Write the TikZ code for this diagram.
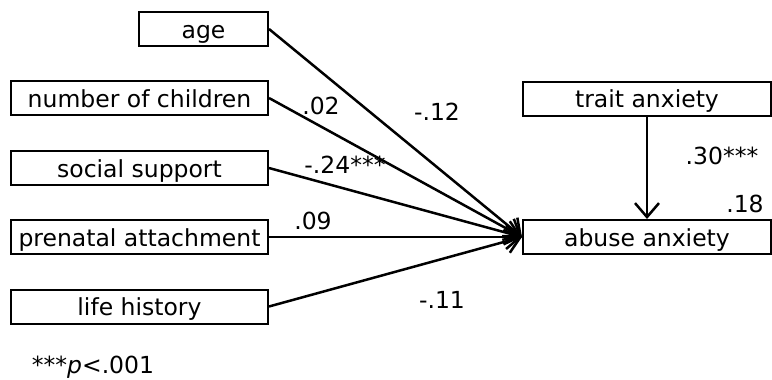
\documentclass[tikz,border=0pt]{standalone}
\usepackage{fontspec}
\setmainfont{DejaVu Sans}
\usetikzlibrary{arrows.meta}
\begin{document}
\begin{tikzpicture}[x=1pt, y=-1pt, line width=2.5pt,
    font=\fontsize{23.5}{27}\selectfont,
    var/.style = {draw, line width=2pt, minimum height=34pt, inner sep=0pt,
        text height=20pt, text depth=2pt},
    coef/.style = {inner sep=0pt},
    path/.style = {-{Straight Barb[length=14pt, width=24pt]}}]
    \useasboundingbox (0,0) rectangle (772,380);
    % predictors
    \node[var, minimum width=129pt] (age) at (203.5,29) {age};
    \node[var, minimum width=257pt] (child) at (139.5,98) {number of children};
    \node[var, minimum width=257pt] (support) at (139.5,168) {social support};
    \node[var, minimum width=257pt] (attach) at (139.5,237) {prenatal attachment};
    \node[var, minimum width=257pt] (history) at (139.5,306.5) {life history};
    % outcome side
    \node[var, minimum width=248pt] (trait) at (647,98.5) {trait anxiety};
    \node[var, minimum width=248pt] (abuse) at (647,237) {abuse anxiety};
    % paths
    \draw[path] (age.east) -- (abuse.west);
    \draw[path] (child.east) -- (abuse.west);
    \draw[path] (support.east) -- (abuse.west);
    \draw[path] (attach.east) -- (abuse.west);
    \draw[path] (history.east) -- (abuse.west);
    \draw[path] (trait.south) -- (abuse.north);
    % coefficients
    \node[coef] (c1) at (321,106) {.02};
    \node[coef] (c2) at (437,112) {-.12};
    \node[coef] (c3) at (345,165) {-.24***};
    \node[coef] (c4) at (313,221) {.09};
    \node[coef] (c5) at (442,300) {-.11};
    \node[coef] (c6) at (722,156) {.30***};
    \node[coef] (r2) at (745,204) {.18};
    \node[coef] (note) at (93,367) {***\textit{p}<.001};
\end{tikzpicture}
\end{document}
